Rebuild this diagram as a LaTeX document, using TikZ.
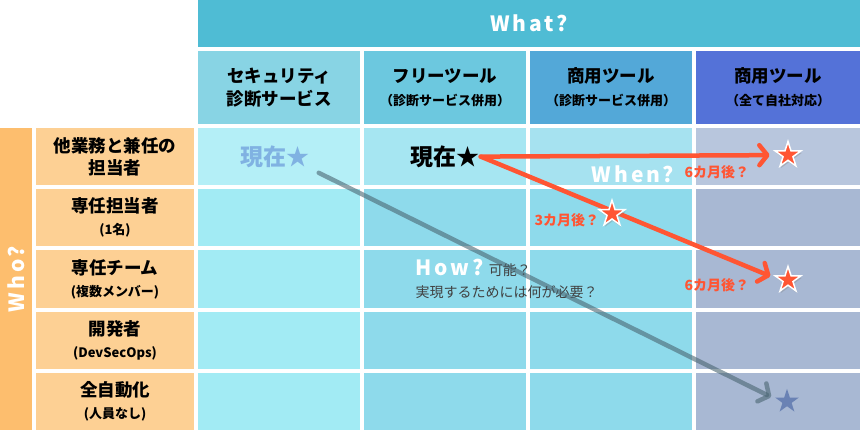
\documentclass[tikz,border=0pt]{standalone}
\usepackage{fontspec}
\setmainfont{Noto Sans CJK JP}
\usetikzlibrary{positioning,shapes.geometric,shadows,arrows.meta}

\definecolor{whatblue}{HTML}{4FBCD4}
\definecolor{hdrone}{HTML}{88D4E4}
\definecolor{hdrtwo}{HTML}{6CC8DF}
\definecolor{hdrthree}{HTML}{53A8D8}
\definecolor{hdrfour}{HTML}{5472D8}
\definecolor{whoorange}{HTML}{FDBE6E}
\definecolor{labelorange}{HTML}{FDD094}
\definecolor{cellone}{HTML}{A2EBF4}
\definecolor{celltwo}{HTML}{8EDAEB}
\definecolor{cellfour}{HTML}{A8B8D3}
\definecolor{nowone}{HTML}{B4EFF7}
\definecolor{nowtwo}{HTML}{A6E6F2}
\definecolor{nowthree}{HTML}{A6E2F0}
\definecolor{nowfour}{HTML}{B8C6DD}
\definecolor{planred}{HTML}{FF5533}
\definecolor{pathgray}{HTML}{4A6672}
\definecolor{goalblue}{HTML}{6A82B4}
\definecolor{nowlight}{HTML}{80B2E2}
\definecolor{howtext}{HTML}{404040}

\newcommand{\qfont}{\bfseries\fontsize{21}{24}\selectfont\addfontfeatures{LetterSpace=14}}
\newcommand{\subnote}[1]{{\fontsize{13}{15}\selectfont #1}}

\pgfdeclarelayer{front}
\pgfsetlayers{main,front}

\tikzset{
    box/.style={rectangle, inner sep=0pt, outer sep=0pt, align=center},
    hdr/.style={box, minimum width=162pt, minimum height=73pt,
        font=\bfseries\fontsize{17.5}{23}\selectfont},
    cell/.style={box, minimum width=162pt, minimum height=57.2pt},
    rowlab/.style={box, fill=labelorange, minimum width=158pt, minimum height=57.2pt,
        font=\bfseries\fontsize{17.5}{22}\selectfont},
    bigq/.style={text=white, font=\qfont},
    nowtext/.style={inner sep=1pt, font=\bfseries\fontsize{23}{25}\selectfont},
    delay/.style={text=planred, font=\bfseries\fontsize{14}{16}\selectfont},
    planstar/.style={star, star points=5, star point ratio=2.6, minimum size=27pt,
        inner sep=0pt, fill=planred, draw=white, line width=1.5pt,
        drop shadow={shadow xshift=1pt, shadow yshift=-2pt, opacity=.35}},
    goalstar/.style={star, star points=5, star point ratio=2.6, minimum size=25pt,
        inner sep=0pt, fill=goalblue},
    planarrow/.style={draw=planred, line width=4.5pt, line cap=round,
        -{Straight Barb[length=8pt, width=20pt, round]}},
    patharrow/.style={draw=pathgray, draw opacity=.6, line width=4.5pt, line cap=round,
        -{Straight Barb[length=8pt, width=20pt, round]}}
}

\begin{document}
\begin{tikzpicture}
            \useasboundingbox (0,0) rectangle (860pt,-430pt);

            % What?
            \node(what) [box, bigq, fill=whatblue, minimum width=662pt, minimum height=47pt,
            anchor=north west] at (198pt,0) {What?};
            \node(sec-diag) [hdr, fill=hdrone, below right=4pt and 0pt of what.south west]
            {セキュリティ\\診断サービス};
            \node(free-tool) [hdr, fill=hdrtwo, right=4pt of sec-diag]
            {フリーツール\\\subnote{（診断サービス併用）}};
            \node(com-tool) [hdr, fill=hdrthree, right=4pt of free-tool]
            {商用ツール\\\subnote{（診断サービス併用）}};
            \node(own-tool) [hdr, fill=hdrfour, minimum width=164pt, right=4pt of com-tool]
            {商用ツール\\\subnote{（全て自社対応）}};

            % Cells
            \node(dual-sec) [cell, fill=nowone, below=4pt of sec-diag] {};
            \node(dual-free) [cell, fill=nowtwo, right=4pt of dual-sec] {};
            \node(dual-com) [cell, fill=nowthree, right=4pt of dual-free] {};
            \node(dual-own) [cell, fill=nowfour, minimum width=164pt, right=4pt of dual-com] {};

            \node(single-sec) [cell, fill=cellone, below=4pt of dual-sec] {};
            \node(single-free) [cell, fill=celltwo, right=4pt of single-sec] {};
            \node(single-com) [cell, fill=celltwo, right=4pt of single-free] {};
            \node(single-own) [cell, fill=cellfour, minimum width=164pt, right=4pt of single-com] {};

            \node(team-sec) [cell, fill=cellone, below=4pt of single-sec] {};
            \node(team-free) [cell, fill=celltwo, right=4pt of team-sec] {};
            \node(team-com) [cell, fill=celltwo, right=4pt of team-free] {};
            \node(team-own) [cell, fill=cellfour, minimum width=164pt, right=4pt of team-com] {};

            \node(dev-sec) [cell, fill=cellone, below=4pt of team-sec] {};
            \node(dev-free) [cell, fill=celltwo, right=4pt of dev-sec] {};
            \node(dev-com) [cell, fill=celltwo, right=4pt of dev-free] {};
            \node(dev-own) [cell, fill=cellfour, minimum width=164pt, right=4pt of dev-com] {};

            \node(auto-sec) [cell, fill=cellone, below=4pt of dev-sec] {};
            \node(auto-free) [cell, fill=celltwo, right=4pt of auto-sec] {};
            \node(auto-com) [cell, fill=celltwo, right=4pt of auto-free] {};
            \node(auto-own) [cell, fill=cellfour, minimum width=164pt, right=4pt of auto-com] {};

            % Who?
            \node(dual) [rowlab, left=4pt of dual-sec] {他業務と兼任の\\担当者};
            \node(single) [rowlab, left=4pt of single-sec] {専任担当者\\\subnote{(1名)}};
            \node(team) [rowlab, left=4pt of team-sec] {専任チーム\\\subnote{(複数メンバー)}};
            \node(dev) [rowlab, left=4pt of dev-sec] {開発者\\\subnote{(DevSecOps)}};
            \node(auto) [rowlab, left=4pt of auto-sec] {全自動化\\\subnote{(人員なし)}};
            \node(who) [box, fill=whoorange, minimum width=32pt, minimum height=302pt,
            below left=0pt and 4pt of dual.north west,
            label={[bigq, rotate=90]center:Who?}] {};

            % When? How?
            \node(now-light) [nowtext, text=nowlight, xshift=-4pt] at (dual-sec) {現在★};
            \node(when) [bigq, anchor=base, xshift=22pt, yshift=3pt] at (dual-com.south) {When?};
            \node(how) [anchor=west, xshift=48pt, align=left, text=howtext,
            font=\fontsize{14}{22}\selectfont] at (team-free.west)
            {{\color{white}\qfont How?}\hspace{5pt}可能？\\実現するためには何が必要？};

            \begin{pgfonlayer}{front}
            \node(now) [nowtext] at (dual-free) {現在★};
            \node(star-3) [planstar, xshift=1pt, yshift=4pt] at (single-com) {};
            \node(star-6a) [planstar, xshift=10pt, yshift=1.5pt] at (dual-own) {};
            \node(star-6b) [planstar, xshift=10pt, yshift=-1pt] at (team-own) {};
            \node(star-goal) [goalstar, xshift=9pt] at (auto-own) {};
            \node(lag-3) [delay, left=1pt of star-3, yshift=-6pt] {3カ月後？};
            \node(lag-6a) [delay, left=27pt of star-6a, yshift=-17pt] {6カ月後？};
            \node(lag-6b) [delay, left=27pt of star-6b, yshift=-5pt] {6カ月後？};
            \end{pgfonlayer}

            % Draw Lines
            \draw[patharrow, shorten <=9pt, shorten >=10pt] (now-light.south east) -- (star-goal.west);
            \draw[planarrow, shorten >=10pt] (now.east) -- (star-6a.west);
            \draw[planarrow, shorten >=10pt] (now.east) -- (star-6b.west);

\end{tikzpicture}
\end{document}
